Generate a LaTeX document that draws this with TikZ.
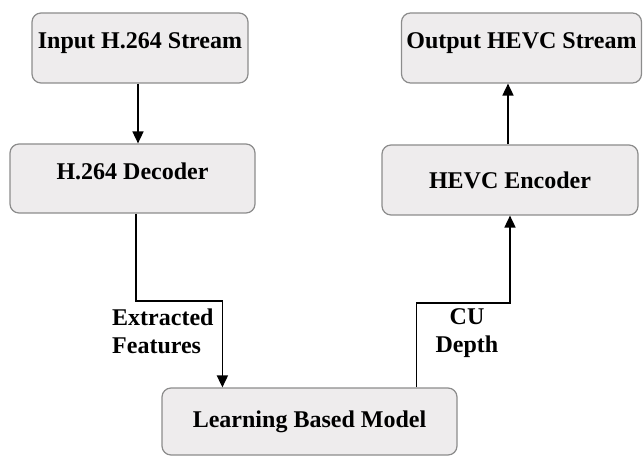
\documentclass[tikz,border=0pt]{standalone}
\usepackage{fontspec}
\setmainfont{Liberation Serif}
\usetikzlibrary{arrows.meta}
\definecolor{boxfill}{HTML}{EEECED}
\definecolor{boxline}{HTML}{8C8C8C}
\begin{document}
\begin{tikzpicture}[x=1pt, y=-1pt,
	font=\fontsize{24}{28}\selectfont\bfseries,
	block/.style={draw=boxline, fill=boxfill, line width=1.2pt, rounded corners=9pt, inner sep=0pt},
	raised/.style={text depth=14pt},
	flow/.style={line width=1.7pt, -{Triangle[length=12pt,width=11pt]}},
	tag/.style={inner sep=0pt}]
	\useasboundingbox (0,0) rectangle (643,457);
	%boxes
	\node[block, raised, minimum width=216pt, minimum height=70pt] (in) at (140,48) {Input H.264 Stream};
	\node[block, raised, minimum width=245pt, minimum height=69pt] (dec) at (132.5,178.5) {H.264 Decoder};
	\node[block, raised, minimum width=240pt, minimum height=70pt] (out) at (521.5,48) {Output HEVC Stream};
	\node[block, minimum width=256pt, minimum height=70pt] (enc) at (510,180) {HEVC Encoder};
	\node[block, minimum width=295pt, minimum height=67pt] (learn) at (309.5,421.5) {Learning Based Model};
	%ends on the model box
	\coordinate (featin) at ([xshift=61pt]learn.north west);
	\coordinate (cuout) at ([xshift=255pt]learn.north west);
	%arrows
	\draw[flow] ([xshift=-2pt]in.south) -- ([xshift=-2pt]in.south |- dec.north);
	\draw[flow] ([xshift=3.5pt]dec.south) -- ([xshift=3.5pt]dec.south |- 0,301) -| (featin);
	\draw[flow] (cuout) -- (cuout |- 0,303) -| (enc.south);
	\draw[flow] ([xshift=-2pt]enc.north) -- ([xshift=-2pt]enc.north |- out.south);
	%labels
	\node[tag, anchor=north west, align=left] (feat) at (112,308.5) {Extracted\\Features};
	\node[tag, anchor=north, align=center] (cu) at (467,308.5) {CU\\Depth};
\end{tikzpicture}
\end{document}
